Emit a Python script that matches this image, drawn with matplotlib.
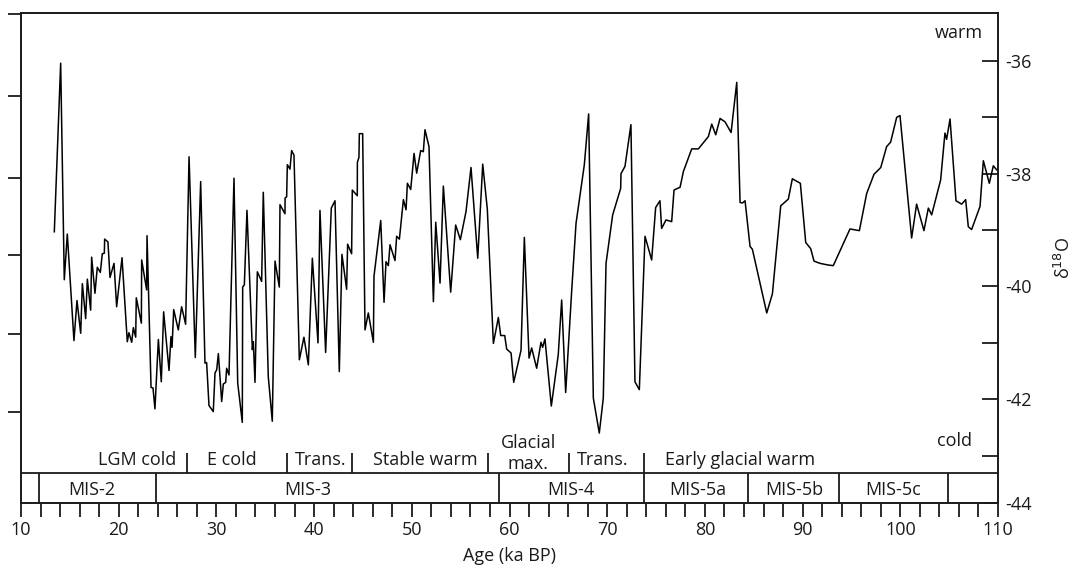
import matplotlib
matplotlib.use("Agg")
import matplotlib.pyplot as plt
from matplotlib.ticker import FixedLocator, FixedFormatter, MultipleLocator

plt.rcParams['font.family'] = ['Open Sans', 'DejaVu Sans']

# ---- data ----
age = [13.41, 14.06, 14.43, 14.74, 15.42, 15.73, 16.11, 16.28, 16.62, 16.79,
       17.13, 17.23, 17.57, 17.81, 18.12, 18.32, 18.53, 18.56, 18.90, 19.11,
       19.52, 19.79, 20.34, 20.88, 21.05, 21.33, 21.50, 21.74, 21.80, 22.32,
       22.35, 22.86, 22.90, 23.31, 23.51, 23.71, 24.06, 24.36, 24.60, 25.15,
       25.35, 25.46, 25.63, 26.10, 26.44, 26.85, 27.20, 27.84, 28.39, 28.83,
       29.00, 29.24,
       29.68, 29.86, 30.03, 30.20, 30.54, 30.71, 30.95, 31.05, 31.29, 31.80,
       32.18, 32.65, 32.69, 32.86, 33.13, 33.68, 33.78, 33.95, 34.19, 34.63,
       34.80, 35.31, 35.72, 36.00, 36.44, 36.51, 37.02, 37.03, 37.19, 37.26,
       37.53, 37.70, 37.94, 38.49, 38.96, 39.41, 39.82, 40.40, 40.60, 41.18,
       41.76, 42.14, 42.58, 42.85, 43.33, 43.43, 43.84, 43.91, 44.42, 44.43,
       44.59, 44.63, 44.97,
       45.21, 45.55, 46.07, 46.13, 46.82, 47.16, 47.36, 47.60, 47.77, 48.28,
       48.45, 48.73, 49.14, 49.41, 49.55, 49.89, 50.23, 50.50, 50.91, 51.18,
       51.35, 51.76, 52.21, 52.45, 52.89, 53.23, 53.98, 54.49, 54.97, 55.55,
       56.06, 56.75, 57.26, 57.73, 58.35, 58.86, 59.10, 59.51, 59.71, 60.16,
       60.43,
       61.18, 61.52, 62.00, 62.27, 62.78, 63.22, 63.39, 63.63, 64.28, 64.99,
       65.34, 65.75, 66.36, 66.81, 67.66, 68.10, 68.58, 69.19, 69.60, 69.88,
       70.56, 71.38, 71.41, 71.82, 72.43, 72.84, 73.29, 73.87, 74.55, 74.96,
       75.40, 75.57, 76.02, 76.60, 76.84,
       77.46, 77.80, 78.65, 79.33, 80.36, 80.70, 81.11, 81.55, 82.06, 82.68,
       83.26, 83.60, 83.84, 84.11, 84.62, 84.86, 86.33, 86.91, 87.76, 88.54,
       88.95, 89.77, 90.32, 90.83, 91.17, 91.78, 92.64,
       93.14, 94.85, 95.81, 96.56, 97.31, 98.00, 98.60, 99.01, 99.63, 99.97,
       101.16, 101.67, 102.42, 102.87, 103.21, 104.13, 104.57, 104.74, 105.09,
       105.70, 106.28, 106.69, 106.96, 107.30, 108.16, 108.50, 109.11, 109.52,
       109.86]

d18o = [-39.03, -36.04, -39.88, -39.07, -40.96, -40.25, -40.83, -39.95, -40.57, -39.87,
        -40.42, -39.48, -40.12, -39.66, -39.75, -39.42, -39.41, -39.16, -39.21, -39.84,
        -39.59, -40.36, -39.49, -40.98, -40.82, -40.99, -40.73, -40.90, -40.20, -40.65,
        -39.53, -40.06, -39.10, -41.79, -41.80, -42.17, -40.94, -41.69, -40.45, -41.49,
        -40.89, -41.08, -40.41, -40.77, -40.36, -40.67, -37.70, -41.26, -38.14, -41.36,
        -41.35, -42.11,
        -42.22, -41.53, -41.48, -41.19, -42.04, -41.73, -41.70, -41.45, -41.57, -38.08,
        -41.71, -42.41, -40.01, -39.97, -38.65, -41.12, -40.98, -41.70, -39.74, -39.91,
        -38.33, -41.60, -42.39, -39.55, -40.01, -38.55, -38.71, -38.43, -38.41, -37.84,
        -37.92, -37.59, -37.67, -41.30, -40.90, -41.39, -39.50, -41.00, -38.65, -41.17,
        -38.61, -38.48, -41.51, -39.43, -40.05, -39.25, -39.42, -38.29, -38.39, -37.80,
        -37.71, -37.29, -37.29,
        -40.77, -40.47, -40.99, -39.82, -38.83, -40.28, -39.56, -39.63, -39.26, -39.54,
        -39.11, -39.16, -38.46, -38.64, -38.17, -38.28, -37.64, -37.99, -37.59, -37.61,
        -37.22, -37.52, -40.27, -38.86, -39.94, -38.22, -40.10, -38.91, -39.17, -38.67,
        -37.89, -39.50, -37.83, -38.63, -41.01, -40.55, -40.87, -40.87, -41.11, -41.18,
        -41.70,
        -41.13, -39.13, -41.27, -41.09, -41.45, -40.99, -41.08, -40.93, -42.12, -41.21,
        -40.24, -41.88, -40.09, -38.88, -37.84, -36.94, -41.98, -42.60, -41.98, -39.59,
        -38.73, -38.26, -38.00, -37.87, -37.13, -41.69, -41.83, -39.11, -39.53, -38.60,
        -38.48, -38.97, -38.82, -38.85, -38.29,
        -38.24, -37.96, -37.56, -37.56, -37.34, -37.12, -37.31, -37.02, -37.08, -37.27,
        -36.38, -38.51, -38.52, -38.48, -39.29, -39.34, -40.47, -40.13, -38.57, -38.45,
        -38.09, -38.17, -39.22, -39.33, -39.55, -39.59, -39.62,
        -39.63, -38.98, -39.01, -38.35, -38.01, -37.89, -37.52, -37.44, -37.00, -36.97,
        -39.14, -38.54, -39.01, -38.61, -38.73, -38.11, -37.28, -37.39, -37.03,
        -38.48, -38.54, -38.46, -38.94, -38.99, -38.58, -37.77, -38.17, -37.86,
        -37.93]

assert len(age) == len(d18o)

# stage / phase annotations
mis_bounds = [11.84, 23.82, 58.93, 73.77, 84.41, 93.73, 104.88]
mis_labels = ["MIS-2", "MIS-3", "MIS-4", "MIS-5a", "MIS-5b", "MIS-5c"]
mis_label_x = [17.27, 39.4, 66.3, 79.3, 89.2, 99.25]

phase_bounds = [26.99, 37.23, 43.88, 57.80, 66.09, 73.77]
phase_labels = ["LGM cold", "E cold", "Trans.", "Stable warm", "Glacial\nmax.", "Trans.", "Early glacial warm"]
phase_label_x = [21.87, 31.6, 40.7, 51.35, 61.9, 69.5, 83.6]

x_lim = (10, 110)
y_lim = (-43.84, -35.15)
right_ticks = [-36, -38, -40, -42, -43.84]
right_tick_labels = ["-36", "-38", "-40", "-42", "-44"]
right_minor = [-37, -39, -41, -43]
left_ticks = [-35.17, -36.62, -38.07, -39.44, -40.84, -42.22]

ink = "#1a1a1a"
fs = 13

fig = plt.figure(figsize=(10.8, 5.65), dpi=100)
ax = fig.add_axes([21/1080, 62/565, 977/1080, 490/565])

# left ticks (unlabelled scale) -- created first because twinx resets ticks
ax2 = ax.twinx()
ax2.set_ylim(*y_lim)
ax2.yaxis.set_ticks_position('left')
ax2.set_yticks(left_ticks)
ax2.set_yticklabels([])
ax2.tick_params(axis='y', which='major', direction='out', length=9.5, width=1.3,
                color=ink, left=True, right=False, labelleft=False, labelright=False)
ax2.tick_params(axis='y', which='minor', left=False, right=False)
for s in ax2.spines.values():
    s.set_visible(False)

ax.plot(age, d18o, color="black", lw=1.1, zorder=3)
ax.set_xlim(*x_lim)
ax.set_ylim(*y_lim)

for s in ax.spines.values():
    s.set_linewidth(1.4)
    s.set_color(ink)

# x axis
ax.xaxis.set_major_locator(MultipleLocator(10))
ax.xaxis.set_minor_locator(MultipleLocator(2))
ax.tick_params(axis='x', which='both', direction='out', length=10, width=1.3,
               color=ink, labelsize=fs, labelcolor=ink, pad=3)
ax.set_xlabel("Age (ka BP)", fontsize=fs, color=ink, labelpad=6)

# right y axis
ax.yaxis.set_major_locator(FixedLocator(right_ticks))
ax.yaxis.set_major_formatter(FixedFormatter(right_tick_labels))
ax.yaxis.set_minor_locator(FixedLocator(right_minor))
ax.tick_params(axis='y', which='both', direction='in', length=11.5, width=1.3,
               color=ink, labelsize=fs, labelcolor=ink, pad=5,
               left=False, right=True, labelleft=False, labelright=True)
ax.yaxis.set_label_position('right')
ax.set_ylabel("δ$^{18}$O", fontsize=fs, color=ink, rotation=90, labelpad=16)

# annotation rows
tr = ax.get_xaxis_transform()
row_top = 30/490
phase_top = 50/490
ax.plot(x_lim, [row_top, row_top], transform=tr, color=ink, lw=1.3, clip_on=False)
ax.vlines(mis_bounds, 0, row_top, transform=tr, color=ink, lw=1.3)
ax.vlines(phase_bounds, row_top, phase_top, transform=tr, color=ink, lw=1.3)

for lab, x in zip(mis_labels, mis_label_x):
    ax.text(x, 0.027, lab, transform=tr, ha='center', va='center', fontsize=fs, color=ink)
for lab, x in zip(phase_labels, phase_label_x):
    if "\n" in lab:
        ax.text(x, 0.069, lab, transform=tr, ha='center', va='baseline', fontsize=fs,
                color=ink, linespacing=1.2)
    else:
        ax.text(x, 0.088, lab, transform=tr, ha='center', va='center', fontsize=fs, color=ink)

ax.text(108.46, 0.959, "warm", transform=tr, ha='right', va='center', fontsize=fs, color=ink)
ax.text(107.34, 0.127, "cold", transform=tr, ha='right', va='center', fontsize=fs, color=ink)

fig.savefig("out.png", dpi=100)
